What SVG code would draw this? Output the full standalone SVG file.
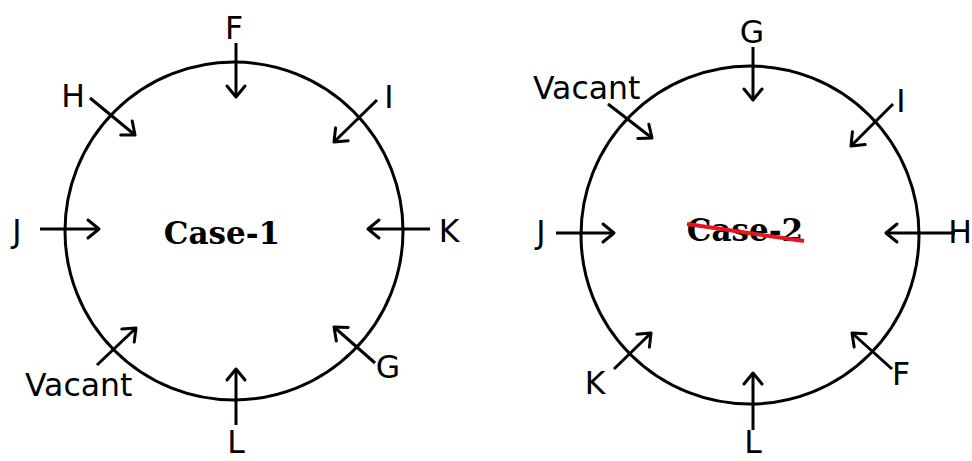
<svg xmlns="http://www.w3.org/2000/svg" width="972" height="461" viewBox="0 0 972 461">
<defs>
<marker id="ah" markerUnits="userSpaceOnUse" markerWidth="30" markerHeight="30" viewBox="-15 -15 30 30" refX="0" refY="0" orient="auto" overflow="visible">
<path d="M-11,-9 L0,0 L-11,9" fill="none" stroke="#000" stroke-width="3" stroke-linecap="round" stroke-linejoin="round"/>
</marker>
<style>
.ring{fill:none;stroke:#000;stroke-width:3}
.arr{stroke:#000;stroke-width:3;fill:none;marker-end:url(#ah)}
.lbl{font-family:"DejaVu Sans","Verdana",sans-serif;font-size:31.5px;fill:#000}
.mid{text-anchor:middle}
.title{font-family:"DejaVu Serif",serif;font-weight:bold;font-size:31px;fill:#000;text-anchor:middle}
</style>
</defs>
<g id="case1">
<circle class="ring" cx="234" cy="231" r="169"/>
<text class="title" x="222" y="244">Case-1</text>
</g>
<g id="case2">
<circle class="ring" cx="750" cy="235" r="169"/>
<text class="title" x="745" y="241">Case-2</text>
<line x1="687" y1="224" x2="804" y2="241" stroke="#e8141e" stroke-width="4"/>
</g>
<g id="connectors">
<line class="arr" x1="236" y1="43" x2="236" y2="97"/>
<line class="arr" x1="90" y1="98" x2="135" y2="135"/>
<line class="arr" x1="377" y1="100" x2="334" y2="142"/>
<line class="arr" x1="40" y1="229" x2="99" y2="229"/>
<line class="arr" x1="430" y1="229" x2="368" y2="229"/>
<line class="arr" x1="97" y1="365" x2="136" y2="328"/>
<line class="arr" x1="375" y1="363" x2="334" y2="327"/>
<line class="arr" x1="236" y1="425" x2="236" y2="369"/>
<line class="arr" x1="753" y1="47" x2="753" y2="100"/>
<line class="arr" x1="608" y1="104" x2="652" y2="138"/>
<line class="arr" x1="893" y1="104" x2="851" y2="146"/>
<line class="arr" x1="556" y1="233" x2="614" y2="233"/>
<line class="arr" x1="955" y1="233" x2="886" y2="233"/>
<line class="arr" x1="614" y1="369" x2="651" y2="333"/>
<line class="arr" x1="892" y1="369" x2="852" y2="333"/>
<line class="arr" x1="753" y1="430" x2="753" y2="373"/>
</g>
<g id="labels1">
<text class="lbl mid" x="234" y="39">F</text>
<text class="lbl mid" x="73" y="107">H</text>
<text class="lbl mid" x="389" y="108">I</text>
<text class="lbl mid" x="17" y="242">J</text>
<text class="lbl mid" x="449" y="242">K</text>
<text class="lbl" x="25" y="396">Vacant</text>
<text class="lbl mid" x="388" y="378">G</text>
<text class="lbl mid" x="236" y="453">L</text>
</g>
<g id="labels2">
<text class="lbl mid" x="752" y="43">G</text>
<text class="lbl" x="533" y="99">Vacant</text>
<text class="lbl mid" x="901" y="112">I</text>
<text class="lbl mid" x="541" y="243">J</text>
<text class="lbl mid" x="960" y="243">H</text>
<text class="lbl mid" x="595" y="394">K</text>
<text class="lbl mid" x="901" y="385">F</text>
<text class="lbl mid" x="753" y="453">L</text>
</g>
</svg>
